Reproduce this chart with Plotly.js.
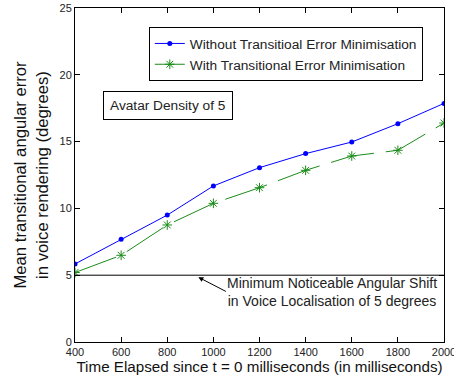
<!DOCTYPE html>
<html><head><meta charset="utf-8">
<script src="https://cdn.plot.ly/plotly-3.0.1.min.js"></script>
<style>body{margin:0;background:#fff}#c{width:454px;height:376px}</style>
</head><body><div id="c"></div>
<script>
const timeMs = [400, 600, 800, 1000, 1200, 1400, 1600, 1800, 2000];
const withoutMin = [5.84, 7.69, 9.5, 11.68, 13.05, 14.1, 14.97, 16.34, 17.86];
const withMin = [5.2, 6.49, 8.76, 10.38, 11.55, 12.85, 13.92, 14.35, 16.39];
const thresholdX = [400, 2000];
const thresholdY = [5, 5];
const xTicks = [400, 600, 800, 1000, 1200, 1400, 1600, 1800, 2000];
const yTicks = [0, 5, 10, 15, 20, 25];

const F = 'Liberation Sans, Arial, sans-serif';
const traces = [
  {x: timeMs, y: withoutMin, type: 'scatter', mode: 'lines+markers',
   name: 'Without Transitioal Error Minimisation',
   line: {color: '#0000ff', width: 1}, marker: {color: '#0000ff', size: 5, symbol: 'circle'}},
  {x: timeMs, y: withMin, type: 'scatter', mode: 'lines+markers',
   name: 'With Transitional Error Minimisation',
   line: {color: '#1a8c1a', width: 1, dash: '44px,12px'}, marker: {color: '#1a8c1a', size: 8, symbol: 'asterisk-open', line: {color: '#1a8c1a', width: 1}}},
  {x: thresholdX, y: thresholdY, type: 'scatter', mode: 'lines', showlegend: false,
   line: {color: '#000', width: 1}, hoverinfo: 'skip'}
];
const layout = {
  width: 454, height: 376,
  margin: {l: 75, r: 10, t: 8, b: 34},
  paper_bgcolor: '#fff', plot_bgcolor: '#fff',
  font: {family: F, color: '#222', size: 11},
  showlegend: true,
  legend: {x: 0.2, y: 0.943, xanchor: 'left', yanchor: 'top', bordercolor: '#000', borderwidth: 1,
    bgcolor: '#fff', font: {family: F, size: 13.7, color: '#222'}, itemwidth: 30, tracegroupgap: 0},
  xaxis: {range: [400, 2000], tickvals: xTicks, ticks: 'inside', ticklen: 5, tickcolor: '#000',
    showline: true, linecolor: '#000', linewidth: 1, mirror: 'ticks', showgrid: false, zeroline: false,
    ticklabeloverflow: 'allow',
    tickfont: {family: F, size: 11, color: '#222'},
    title: {text: 'Time Elapsed since t = 0 milliseconds (in milliseconds)', font: {family: F, size: 15.2, color: '#111'}, standoff: 1}},
  yaxis: {range: [0, 25], tickvals: yTicks, ticks: 'inside', ticklen: 5, tickcolor: '#000',
    showline: true, linecolor: '#000', linewidth: 1, mirror: 'ticks', showgrid: false, zeroline: false,
    tickfont: {family: F, size: 11, color: '#222'},
    title: {text: 'Mean transitional angular error<br>in voice rendering (degrees)', font: {family: F, size: 16.7, color: '#111'}, standoff: 6}},
  annotations: [
    {xref: 'paper', yref: 'paper', x: (103-75)/369, y: (342-105.5)/334, xanchor: 'left', yanchor: 'middle',
     text: 'Avatar Density of 5', showarrow: false, bordercolor: '#000', borderwidth: 1, borderpad: 6,
     bgcolor: '#fff', font: {family: F, size: 13.7, color: '#222'}},
    {xref: 'x', yref: 'y', x: 935, y: 4.85, ax: 29, ay: 15, axref: 'pixel', ayref: 'pixel',
     showarrow: true, arrowhead: 2, arrowsize: 1, arrowwidth: 1, arrowcolor: '#000', text: '', standoff: 0, startstandoff: 0},
    {xref: 'paper', yref: 'paper', x: (332-75)/369, y: (342-292)/334, xanchor: 'center', yanchor: 'middle',
     text: 'Minimum Noticeable Angular Shift<br>in Voice Localisation of 5 degrees', showarrow: false,
     font: {family: F, size: 14, color: '#222'}}
  ]
};
Plotly.newPlot('c', traces, layout, {displayModeBar: false, staticPlot: true});
</script></body></html>
